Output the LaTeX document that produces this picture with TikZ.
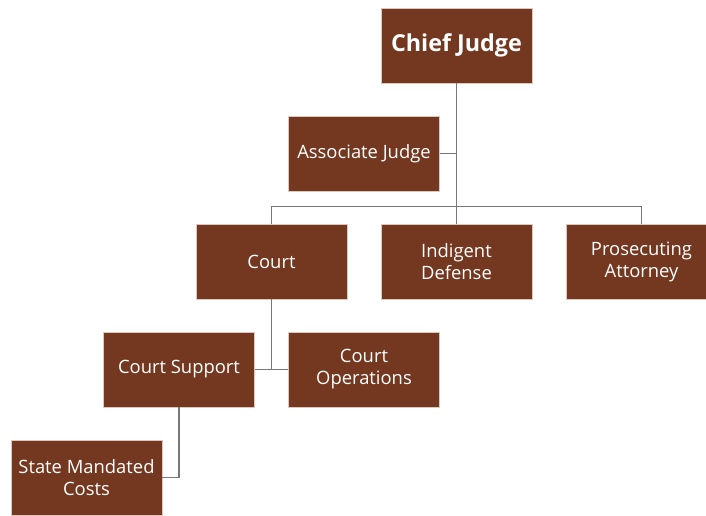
\documentclass[tikz,border=0pt]{standalone}
\usepackage{fontspec}
\setmainfont{Open Sans}
\usepackage{tikz}
\usetikzlibrary{calc}
\definecolor{boxbrown}{RGB}{116,56,32}
\definecolor{boxedge}{RGB}{222,200,190}
\definecolor{linkgray}{RGB}{120,120,120}

\begin{document}
\begin{tikzpicture}[node distance=81pt,
  unit/.style={draw=boxedge, line width=0.6pt, fill=boxbrown, text=white, minimum width=113.25pt, minimum height=56.25pt, align=center, font=\fontsize{13.8}{16.5}\selectfont},
  link/.style={draw=linkgray, line width=0.9pt}]
\useasboundingbox (-342.375pt,34.125pt) rectangle (187.125pt,-352.125pt);
\node[name=chief, unit, font=\fontsize{17.5}{20}\selectfont\bfseries]{Chief Judge};
\node[name=assoc, unit, below of=chief, xshift=-69.375pt]{Associate Judge};
\node[name=court, unit, below of=assoc, xshift=-69.375pt]{Court};
\node[name=indigent, unit, below of=assoc, xshift=69.375pt]{Indigent\\Defense};
\node[name=prosecuting, unit, below of=assoc, xshift=208.125pt]{Prosecuting\\Attorney};
\node[name=support, unit, below of=court, xshift=-69.375pt]{Court Support};
\node[name=operations, unit, below of=court, xshift=69.375pt]{Court\\Operations};
\node[name=state, unit, below of=support, xshift=-69.375pt]{State Mandated\\Costs};
\coordinate (bus) at ([yshift=12.75pt]court.north);

\draw[link](chief.south) -- (chief.south |- bus);
\draw[link](assoc.east) -- (assoc.east -| chief.south);
\draw[link](court.north) -- (bus) -| (prosecuting.north);
\draw[link](indigent.north) -- (indigent.north |- bus);
\draw[link](court.south) -- (court.south |- operations.west);
\draw[link](support.east) -- (operations.west);
\draw[link](support.south) |- (state.east);
\end{tikzpicture}
\end{document}
